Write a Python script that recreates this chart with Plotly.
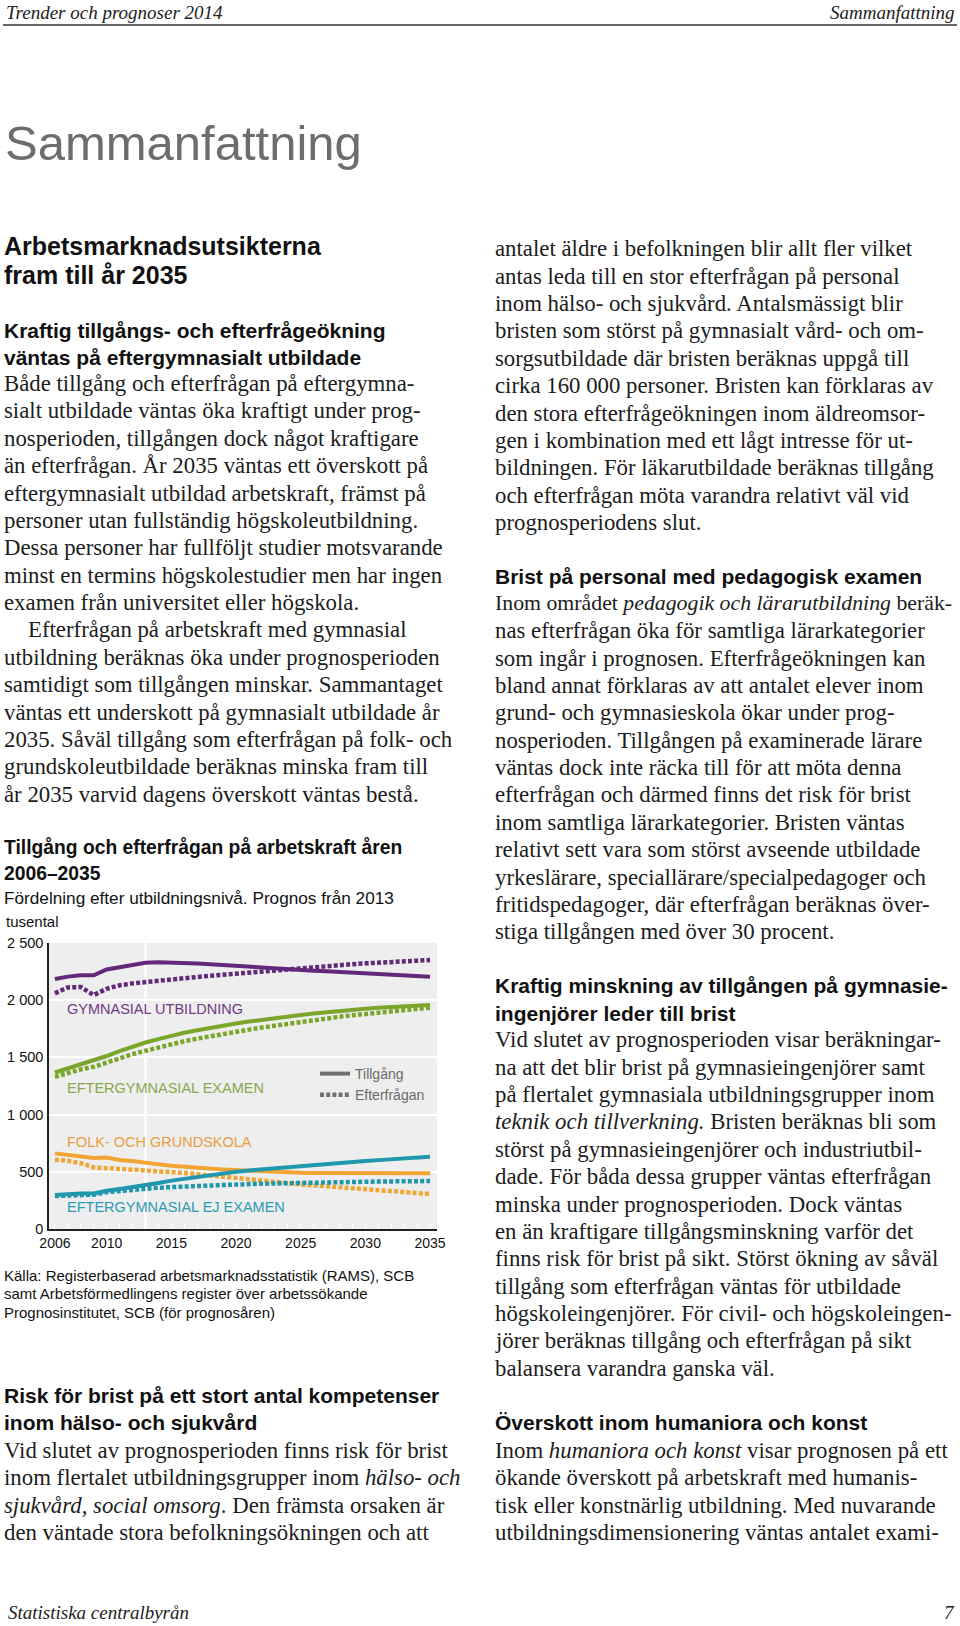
import plotly.graph_objects as go

W, H = 960, 1626

# ---------------- data ----------------
years = list(range(2006, 2036))
x_tick_vals = [2006, 2010, 2015, 2020, 2025, 2030, 2035]
x_tick_text = ["2006", "2010", "2015", "2020", "2025", "2030", "2035"]
y_tick_vals = [0, 500, 1000, 1500, 2000, 2500]
y_tick_text = ["0", "500", "1 000", "1 500", "2 000", "2 500"]

gym_supply = [2185, 2206, 2218, 2218, 2268, 2288, 2315, 2328, 2331, 2330,
              2326, 2321, 2315, 2307, 2299, 2292, 2285, 2278, 2271, 2264,
              2258, 2252, 2246, 2240, 2233, 2225, 2217, 2210, 2206, 2205]
gym_demand = [2060, 2112, 2115, 2045, 2100, 2130, 2147, 2160, 2172, 2183,
              2193, 2203, 2213, 2223, 2233, 2243, 2253, 2263, 2273, 2283,
              2291, 2299, 2307, 2315, 2322, 2328, 2334, 2340, 2346, 2351]
eft_supply = [1368, 1405, 1438, 1470, 1512, 1555, 1595, 1630, 1660, 1690,
              1715, 1738, 1759, 1778, 1796, 1813, 1829, 1844, 1858, 1871,
              1884, 1896, 1907, 1917, 1926, 1934, 1941, 1947, 1952, 1957]
eft_demand = [1330, 1365, 1395, 1418, 1455, 1495, 1528, 1558, 1588, 1616,
              1641, 1664, 1686, 1706, 1725, 1743, 1761, 1778, 1795, 1811,
              1826, 1841, 1855, 1868, 1880, 1892, 1903, 1914, 1925, 1935]
folk_supply = [661, 648, 634, 621, 625, 604, 595, 578, 565, 553,
               543, 535, 527, 521, 515, 509, 503, 498, 495, 492,
               490, 489, 488, 487, 487, 487, 487, 487, 487, 487]
folk_demand = [605, 596, 575, 538, 532, 526, 521, 516, 508, 500,
               490, 480, 470, 460, 449, 437, 425, 413, 401, 390,
               381, 372, 364, 357, 350, 341, 332, 324, 315, 306]
ej_supply = [297, 305, 310, 310, 335, 350, 365, 380, 402, 423,
             440, 456, 471, 486, 501, 512, 522, 532, 542, 551,
             560, 569, 578, 586, 594, 602, 610, 617, 625, 632]
ej_demand = [288, 295, 298, 300, 322, 334, 346, 356, 361, 366,
             372, 377, 382, 386, 390, 393, 396, 399, 402, 405,
             407, 409, 410, 412, 414, 415, 416, 417, 418, 419]

group_names = ["GYMNASIAL UTBILDNING", "EFTERGYMNASIAL EXAMEN",
               "FOLK- OCH GRUNDSKOLA", "EFTERGYMNASIAL EJ EXAMEN"]
legend_names = ["Tillgång", "Efterfrågan"]

header_left = "Trender och prognoser 2014"
header_right = "Sammanfattning"
page_title = "Sammanfattning"
footer_left = "Statistiska centralbyrån"
footer_right = "7"

left_h1 = ["Arbetsmarknadsutsikterna", "fram till år 2035"]
left_h2 = ["Kraftig tillgångs- och efterfrågeökning",
           "väntas på eftergymnasialt utbildade"]
left_body1 = [
    "Både tillgång och efterfrågan på eftergymna-",
    "sialt utbildade väntas öka kraftigt under prog-",
    "nosperioden, tillgången dock något kraftigare",
    "än efterfrågan. År 2035 väntas ett överskott på",
    "eftergymnasialt utbildad arbetskraft, främst på",
    "personer utan fullständig högskoleutbildning.",
    "Dessa personer har fullföljt studier motsvarande",
    "minst en termins högskolestudier men har ingen",
    "examen från universitet eller högskola.",
    "Efterfrågan på arbetskraft med gymnasial",
    "utbildning beräknas öka under prognosperioden",
    "samtidigt som tillgången minskar. Sammantaget",
    "väntas ett underskott på gymnasialt utbildade år",
    "2035. Såväl tillgång som efterfrågan på folk- och",
    "grundskoleutbildade beräknas minska fram till",
    "år 2035 varvid dagens överskott väntas bestå.",
]
chart_title = ["Tillgång och efterfrågan på arbetskraft åren", "2006–2035"]
chart_subtitle = "Fördelning efter utbildningsnivå. Prognos från 2013"
chart_unit = "tusental"
chart_source = [
    "Källa: Registerbaserad arbetsmarknadsstatistik (RAMS), SCB",
    "samt Arbetsförmedlingens register över arbetssökande",
    "Prognosinstitutet, SCB (för prognosåren)",
]
left_h3 = ["Risk för brist på ett stort antal kompetenser",
           "inom hälso- och sjukvård"]
left_body2 = [
    "Vid slutet av prognosperioden finns risk för brist",
    "inom flertalet utbildningsgrupper inom <i>hälso- och</i>",
    "<i>sjukvård, social omsorg</i>. Den främsta orsaken är",
    "den väntade stora befolkningsökningen och att",
]

right_body1 = [
    "antalet äldre i befolkningen blir allt fler vilket",
    "antas leda till en stor efterfrågan på personal",
    "inom hälso- och sjukvård. Antalsmässigt blir",
    "bristen som störst på gymnasialt vård- och om-",
    "sorgsutbildade där bristen beräknas uppgå till",
    "cirka 160 000 personer. Bristen kan förklaras av",
    "den stora efterfrågeökningen inom äldreomsor-",
    "gen i kombination med ett lågt intresse för ut-",
    "bildningen. För läkarutbildade beräknas tillgång",
    "och efterfrågan möta varandra relativt väl vid",
    "prognosperiodens slut.",
]
right_h1 = ["Brist på personal med pedagogisk examen"]
right_body2 = [
    "Inom området <i>pedagogik och lärarutbildning</i> beräk-",
    "nas efterfrågan öka för samtliga lärarkategorier",
    "som ingår i prognosen. Efterfrågeökningen kan",
    "bland annat förklaras av att antalet elever inom",
    "grund- och gymnasieskola ökar under prog-",
    "nosperioden. Tillgången på examinerade lärare",
    "väntas dock inte räcka till för att möta denna",
    "efterfrågan och därmed finns det risk för brist",
    "inom samtliga lärarkategorier. Bristen väntas",
    "relativt sett vara som störst avseende utbildade",
    "yrkeslärare, speciallärare/specialpedagoger och",
    "fritidspedagoger, där efterfrågan beräknas över-",
    "stiga tillgången med över 30 procent.",
]
right_h2 = ["Kraftig minskning av tillgången på gymnasie-",
            "ingenjörer leder till brist"]
right_body3 = [
    "Vid slutet av prognosperioden visar beräkningar-",
    "na att det blir brist på gymnasieingenjörer samt",
    "på flertalet gymnasiala utbildningsgrupper inom",
    "<i>teknik och tillverkning.</i> Bristen beräknas bli som",
    "störst på gymnasieingenjörer och industriutbil-",
    "dade. För båda dessa grupper väntas efterfrågan",
    "minska under prognosperioden. Dock väntas",
    "en än kraftigare tillgångsminskning varför det",
    "finns risk för brist på sikt. Störst ökning av såväl",
    "tillgång som efterfrågan väntas för utbildade",
    "högskoleingenjörer. För civil- och högskoleingen-",
    "jörer beräknas tillgång och efterfrågan på sikt",
    "balansera varandra ganska väl.",
]
right_h3 = ["Överskott inom humaniora och konst"]
right_body4 = [
    "Inom <i>humaniora och konst</i> visar prognosen på ett",
    "ökande överskott på arbetskraft med humanis-",
    "tisk eller konstnärlig utbildning. Med nuvarande",
    "utbildningsdimensionering väntas antalet exami-",
]

# ---------------- styles ----------------
SANS = "Liberation Sans, Arial, sans-serif"
SERIF = "Liberation Serif, Times New Roman, serif"
TXT = "#1c1c1c"
BODY_SIZE = 22.8
BOLD_SIZE = 21
LINE = 27.37

line_colors = ["#64287a", "#7aa62b", "#f2a533", "#1f97ad"]
label_colors = ["#733a86", "#87a84c", "#eb9c3c", "#2b9bb1"]
label_pos = [(2006.8, 1923), (2006.8, 1232), (2006.8, 763), (2006.8, 190)]

fig = go.Figure()

supplies = [gym_supply, eft_supply, folk_supply, ej_supply]
demands = [gym_demand, eft_demand, folk_demand, ej_demand]
for sup, dem, col in zip(supplies, demands, line_colors):
    fig.add_trace(go.Scatter(x=years, y=dem, mode="lines", showlegend=False,
                             line=dict(color=col, width=4.5, dash="4px,2.2px"),
                             hoverinfo="skip"))
    fig.add_trace(go.Scatter(x=years, y=sup, mode="lines", showlegend=False,
                             line=dict(color=col, width=4), hoverinfo="skip"))

# legend-only entries
fig.add_trace(go.Scatter(x=[None], y=[None], mode="lines", name=legend_names[0],
                         line=dict(color="#707070", width=4)))
fig.add_trace(go.Scatter(x=[None], y=[None], mode="lines", name=legend_names[1],
                         line=dict(color="#707070", width=4.5, dash="4px,2.2px")))

for name, col, (lx, ly) in zip(group_names, label_colors, label_pos):
    fig.add_annotation(x=lx, y=ly, xref="x", yref="y", text=name, showarrow=False,
                       xanchor="left", yanchor="middle",
                       font=dict(family=SANS, size=14.5, color=col))

# 2013 divider between history and forecast
fig.add_shape(type="line", xref="x", yref="y", x0=2013, x1=2013, y0=0, y1=2500,
              line=dict(color="white", width=2.5), layer="below")


def txt(x, y, text, size, family, color=TXT, xanchor="left"):
    fig.add_annotation(x=x / W, y=1 - y / H, xref="paper", yref="paper", text=text,
                       showarrow=False, xanchor=xanchor, yanchor="middle",
                       align="left", font=dict(size=size, family=family, color=color))


def block(x, y0, lines, size, family, color=TXT, bold=False, indent=None, sizes=None):
    for i, s in enumerate(lines):
        t = "<b>" + s + "</b>" if bold else s
        xx = x + (indent[1] if indent and i == indent[0] else 0)
        sz = sizes.get(i, size) if sizes else size
        txt(xx, y0 + i * LINE, t, sz, family, color)


# header / footer
txt(4, 12, "<i>" + header_left + "</i>", 19, SERIF, "#222")
txt(957, 12, "<i>" + header_right + "</i>", 19, SERIF, "#222", xanchor="right")
fig.add_shape(type="line", xref="paper", yref="paper", x0=3 / W, x1=957 / W,
              y0=1 - 25 / H, y1=1 - 25 / H, line=dict(color="#333", width=1.5))
txt(3, 143, page_title, 49, SANS, "#6d6d6d")
txt(6, 1612, "<i>" + footer_left + "</i>", 19, SERIF, "#222")
txt(957, 1612, "<i>" + footer_right + "</i>", 19, SERIF, "#222", xanchor="right")

# left column
for i, s in enumerate(left_h1):
    txt(2, 246 + i * 29, "<b>" + s + "</b>", 25, SANS, "#111")
block(2, 330, left_h2, BOLD_SIZE, SANS, "#111", bold=True)
block(2, 383.6, left_body1, BODY_SIZE, SERIF, indent=(9, 24))

txt(2, 847, "<b>" + chart_title[0] + "</b>", 19.3, SANS, "#111")
txt(2, 873, "<b>" + chart_title[1] + "</b>", 19.3, SANS, "#111")
txt(2, 898, chart_subtitle, 17.2, SANS, "#111")
txt(4, 921, chart_unit, 15, SANS, "#111")
for i, s in enumerate(chart_source):
    txt(2, 1275 + i * 18.8, s, 15, SANS, "#111")

block(2, 1395.4, left_h3, BOLD_SIZE, SANS, "#111", bold=True)
block(2, 1450.4, left_body2, BODY_SIZE, SERIF)

# right column
RX = 493
block(RX, 248.8, right_body1, BODY_SIZE, SERIF)
block(RX, 576.4, right_h1, BOLD_SIZE, SANS, "#111", bold=True)
block(RX, 603.4, right_body2, BODY_SIZE, SERIF, sizes={0: 21.8})
block(RX, 985.9, right_h2, BOLD_SIZE, SANS, "#111", bold=True)
block(RX, 1039.8, right_body3, BODY_SIZE, SERIF)
block(RX, 1422.4, right_h3, BOLD_SIZE, SANS, "#111", bold=True)
block(RX, 1450.4, right_body4, BODY_SIZE, SERIF)

fig.update_layout(
    width=W, height=H,
    margin=dict(l=0, r=0, t=0, b=0, pad=0, autoexpand=False),
    paper_bgcolor="white",
    plot_bgcolor="#eeeeee",
    showlegend=True,
    legend=dict(x=315 / W, y=1 - 1058 / H, xanchor="left", yanchor="top",
                bgcolor="rgba(0,0,0,0)", font=dict(family=SANS, size=14, color="#6b6b6b"),
                tracegroupgap=0, itemwidth=30),
    xaxis=dict(domain=[49 / W, 437 / W], range=[2005.54, 2035.54], automargin=False,
               tickvals=x_tick_vals, ticktext=x_tick_text,
               showgrid=False, zeroline=False, showline=True, linecolor="#222",
               linewidth=1.5, ticks="inside", ticklen=5, tickcolor="white",
               minor=dict(ticks="inside", ticklen=5, tickcolor="white", dtick=1, tick0=2006),
               tickfont=dict(family=SANS, size=14, color="#111"), fixedrange=True),
    yaxis=dict(domain=[1 - 1229 / H, 1 - 943 / H], range=[0, 2500], automargin=False,
               tickvals=y_tick_vals, ticktext=y_tick_text,
               showgrid=True, gridcolor="white", gridwidth=1.5, zeroline=False,
               showline=True, linecolor="#222", linewidth=1.5, ticks="",
               ticklabelstandoff=1,
               tickfont=dict(family=SANS, size=14.5, color="#111"), fixedrange=True),
)

fig.write_html("out.html",
               config={"displayModeBar": False},
               post_script="document.body.style.margin='0px';"
                           "document.documentElement.style.margin='0px';")
